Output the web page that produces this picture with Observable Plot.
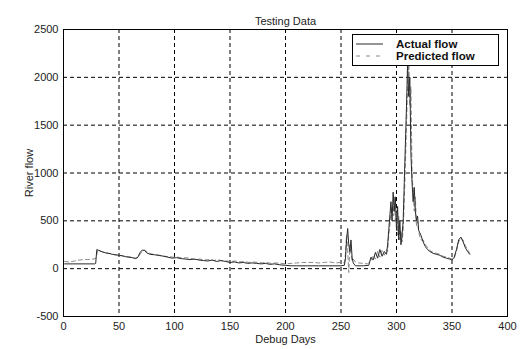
<!DOCTYPE html>
<html>
<head>
<meta charset="utf-8">
<script src="https://cdn.jsdelivr.net/npm/d3@7"></script>
<script src="https://cdn.jsdelivr.net/npm/@observablehq/plot@0.6"></script>
<style>
  body { margin: 0; background: #fff; }
  #wrap { position: relative; width: 520px; height: 349px; font-family: "Liberation Sans", Arial, sans-serif; }
  #legend { position: absolute; left: 352px; top: 34px; width: 145px; height: 30px; border: 1px solid #000; background: #fff; font-size: 11.5px; font-weight: bold; color: #111; }
  #legend .row { position: absolute; left: 0; height: 12px; line-height: 12px; }
  #legend svg { position: absolute; left: 3px; }
  #legend span { position: absolute; left: 43px; white-space: nowrap; }
</style>
</head>
<body>
<div id="wrap"></div>
<script>
const title = "Testing Data";
const xLabel = "Debug Days";
const yLabel = "River flow";
const seriesNames = ["Actual flow", "Predicted flow"];
const xTicks = [0, 50, 100, 150, 200, 250, 300, 350, 400];
const yTicks = [-500, 0, 500, 1000, 1500, 2000, 2500];

const actualDays = [1,28,29,30,32,35,38,41,44,47,50,53,56,59,62,65,67,69,71,73,75,78,82,86,90,94,98,102,106,110,114,118,122,126,130,134,138,142,146,150,154,158,162,166,170,174,178,182,186,190,195,200,205,210,220,230,240,250,253,254,255,256,257,258,259,260,261,263,270,275,277,279,281,283,285,287,289,291,292,293,294,295,296,297,298,299,300,301,302,303,304,305,306,307,308,309,310,311,312,313,314,315,316,317,318,319,320,322,324,326,328,330,333,336,339,342,345,348,350,352,354,356,358,360,362,364,366];
const actualFlow = [50,50,55,200,190,175,165,160,150,145,140,135,125,120,115,105,120,170,195,190,165,150,145,140,130,120,110,115,105,100,95,100,90,85,80,90,75,85,75,65,70,60,65,55,60,55,50,55,45,50,40,35,30,30,30,30,30,30,35,100,300,420,250,180,300,120,60,30,30,35,120,90,170,110,200,130,180,150,250,400,550,700,500,800,600,750,400,650,300,500,250,350,500,900,1300,1700,2150,1800,2000,1200,900,700,850,600,500,550,400,350,280,230,200,180,160,150,140,120,110,100,90,120,200,300,330,280,220,180,150];

const predictedDays = [1,5,10,14,18,22,26,29,30,31,34,37,40,43,46,49,52,55,58,61,64,67,69,71,73,76,79,83,87,91,95,99,103,107,111,115,119,123,127,131,135,139,143,147,151,155,159,163,167,171,175,179,183,187,191,196,200,205,210,215,220,225,230,235,240,245,250,253,254,255,256,257,258,259,260,261,263,266,270,274,277,279,281,283,285,287,289,291,292,293,294,295,296,297,298,299,300,301,302,303,304,305,306,307,308,309,310,311,312,313,314,315,316,317,318,319,320,322,324,326,328,330,333,336,339,342,345,348,350,352,354,356,358,360,362,364,366];
const predictedFlow = [75,70,80,90,95,95,100,105,150,195,180,170,160,155,145,140,135,130,125,120,110,115,150,185,195,170,155,145,135,130,125,120,120,110,115,105,95,100,90,95,85,95,80,80,75,80,70,75,65,70,65,60,65,55,60,55,50,55,60,65,65,65,60,65,70,60,65,60,150,350,200,-40,250,150,80,100,70,60,55,50,90,140,100,180,120,190,140,200,180,350,450,600,650,550,750,500,600,350,550,300,400,280,400,700,1100,1500,1900,2250,1700,1900,1000,800,600,750,450,500,380,300,300,250,220,190,170,160,150,130,120,110,100,110,180,280,320,300,240,200,160];

const actual = actualDays.map((d, i) => ({day: d, flow: actualFlow[i]}));
const predicted = predictedDays.map((d, i) => ({day: d, flow: predictedFlow[i]}));

const gridX = xTicks.slice(1, -1);
const gridY = yTicks.slice(1, -1);

const chart = Plot.plot({
  width: 520,
  height: 349,
  marginLeft: 63,
  marginRight: 13,
  marginTop: 29,
  marginBottom: 33,
  style: {fontFamily: "Liberation Sans, Arial, sans-serif", fontSize: "11px", color: "#222", background: "#fff"},
  x: {domain: [0, 400], ticks: xTicks, tickFormat: d => String(d)},
  y: {domain: [-500, 2500], ticks: yTicks, tickFormat: d => String(d)},
  marks: [
    Plot.ruleX(gridX, {stroke: "#000", strokeDasharray: "4,3", strokeWidth: 1, strokeOpacity: 1}),
    Plot.ruleY(gridY, {stroke: "#000", strokeDasharray: "4,3", strokeWidth: 1, strokeOpacity: 1}),
    Plot.line(predicted, {x: "day", y: "flow", stroke: "#8a8a8a", strokeWidth: 1, strokeDasharray: "4,3"}),
    Plot.line(actual, {x: "day", y: "flow", stroke: "#2a2a2a", strokeWidth: 1}),
    Plot.frame({stroke: "#000", strokeWidth: 1}),
    Plot.axisX({ticks: xTicks, tickSize: 0, tickPadding: 6, label: null, tickFormat: d => String(d)}),
    Plot.axisY({ticks: yTicks, tickSize: 0, tickPadding: 5, label: null, tickFormat: d => String(d)}),
    Plot.text([title], {frameAnchor: "top", dy: -12, text: d => d, fontSize: 11}),
    Plot.text([xLabel], {frameAnchor: "bottom", dy: 26, text: d => d, fontSize: 11}),
    Plot.text([yLabel], {frameAnchor: "left", dx: -34, rotate: -90, textAnchor: "middle", lineAnchor: "middle", text: d => d, fontSize: 11})
  ]
});

const wrap = document.getElementById("wrap");
wrap.appendChild(chart);

const legend = document.createElement("div");
legend.id = "legend";
legend.innerHTML =
  `<div class="row" style="top:3px;width:100%"><svg width="30" height="12"><line x1="0" x2="27" y1="6" y2="6" stroke="#2a2a2a" stroke-width="1"/></svg><span>${seriesNames[0]}</span></div>` +
  `<div class="row" style="top:15px;width:100%"><svg width="30" height="12"><line x1="0" x2="27" y1="6" y2="6" stroke="#8a8a8a" stroke-width="1" stroke-dasharray="4,6"/></svg><span>${seriesNames[1]}</span></div>`;
wrap.appendChild(legend);
</script>
</body>
</html>
